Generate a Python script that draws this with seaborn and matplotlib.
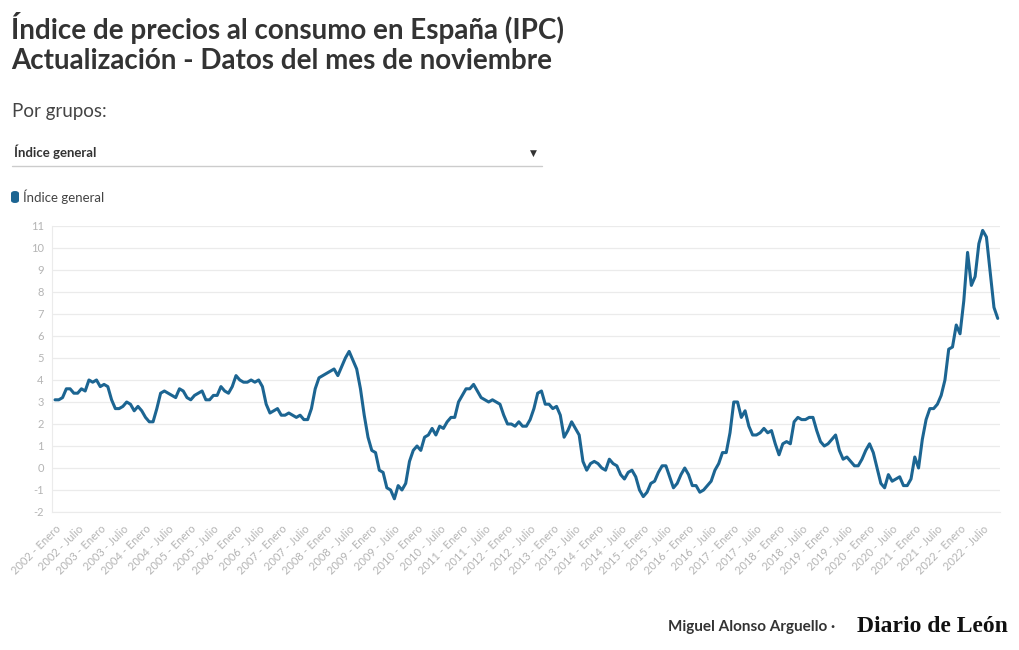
import numpy as np
import pandas as pd
import matplotlib
matplotlib.use('Agg')
import matplotlib.pyplot as plt
from matplotlib.patches import FancyBboxPatch
import seaborn as sns

# tasa de variacion anual del IPC, enero 2002 - noviembre 2022
years = list(range(2002, 2023))
month_names = ['Enero', 'Febrero', 'Marzo', 'Abril', 'Mayo', 'Junio', 'Julio',
               'Agosto', 'Septiembre', 'Octubre', 'Noviembre', 'Diciembre']

ipc_2002 = [3.1, 3.1, 3.2, 3.6, 3.6, 3.4, 3.4, 3.6, 3.5, 4.0, 3.9, 4.0]
ipc_2003 = [3.7, 3.8, 3.7, 3.1, 2.7, 2.7, 2.8, 3.0, 2.9, 2.6, 2.8, 2.6]
ipc_2004 = [2.3, 2.1, 2.1, 2.7, 3.4, 3.5, 3.4, 3.3, 3.2, 3.6, 3.5, 3.2]
ipc_2005 = [3.1, 3.3, 3.4, 3.5, 3.1, 3.1, 3.3, 3.3, 3.7, 3.5, 3.4, 3.7]
ipc_2006 = [4.2, 4.0, 3.9, 3.9, 4.0, 3.9, 4.0, 3.7, 2.9, 2.5, 2.6, 2.7]
ipc_2007 = [2.4, 2.4, 2.5, 2.4, 2.3, 2.4, 2.2, 2.2, 2.7, 3.6, 4.1, 4.2]
ipc_2008 = [4.3, 4.4, 4.5, 4.2, 4.6, 5.0, 5.3, 4.9, 4.5, 3.6, 2.4, 1.4]
ipc_2009 = [0.8, 0.7, -0.1, -0.2, -0.9, -1.0, -1.4, -0.8, -1.0, -0.7, 0.3, 0.8]
ipc_2010 = [1.0, 0.8, 1.4, 1.5, 1.8, 1.5, 1.9, 1.8, 2.1, 2.3, 2.3, 3.0]
ipc_2011 = [3.3, 3.6, 3.6, 3.8, 3.5, 3.2, 3.1, 3.0, 3.1, 3.0, 2.9, 2.4]
ipc_2012 = [2.0, 2.0, 1.9, 2.1, 1.9, 1.9, 2.2, 2.7, 3.4, 3.5, 2.9, 2.9]
ipc_2013 = [2.7, 2.8, 2.4, 1.4, 1.7, 2.1, 1.8, 1.5, 0.3, -0.1, 0.2, 0.3]
ipc_2014 = [0.2, 0.0, -0.1, 0.4, 0.2, 0.1, -0.3, -0.5, -0.2, -0.1, -0.4, -1.0]
ipc_2015 = [-1.3, -1.1, -0.7, -0.6, -0.2, 0.1, 0.1, -0.4, -0.9, -0.7, -0.3, 0.0]
ipc_2016 = [-0.3, -0.8, -0.8, -1.1, -1.0, -0.8, -0.6, -0.1, 0.2, 0.7, 0.7, 1.6]
ipc_2017 = [3.0, 3.0, 2.3, 2.6, 1.9, 1.5, 1.5, 1.6, 1.8, 1.6, 1.7, 1.1]
ipc_2018 = [0.6, 1.1, 1.2, 1.1, 2.1, 2.3, 2.2, 2.2, 2.3, 2.3, 1.7, 1.2]
ipc_2019 = [1.0, 1.1, 1.3, 1.5, 0.8, 0.4, 0.5, 0.3, 0.1, 0.1, 0.4, 0.8]
ipc_2020 = [1.1, 0.7, 0.0, -0.7, -0.9, -0.3, -0.6, -0.5, -0.4, -0.8, -0.8, -0.5]
ipc_2021 = [0.5, 0.0, 1.3, 2.2, 2.7, 2.7, 2.9, 3.3, 4.0, 5.4, 5.5, 6.5]
ipc_2022 = [6.1, 7.6, 9.8, 8.3, 8.7, 10.2, 10.8, 10.5, 8.9, 7.3, 6.8]

ipc_by_year = [ipc_2002, ipc_2003, ipc_2004, ipc_2005, ipc_2006, ipc_2007,
               ipc_2008, ipc_2009, ipc_2010, ipc_2011, ipc_2012, ipc_2013,
               ipc_2014, ipc_2015, ipc_2016, ipc_2017, ipc_2018, ipc_2019,
               ipc_2020, ipc_2021, ipc_2022]

y_ticks = list(range(-2, 12))

rows = []
for year, vals in zip(years, ipc_by_year):
    for m, v in enumerate(vals):
        rows.append({'periodo': f'{year} - {month_names[m]}', 'mes': month_names[m], 'valor': v})
df = pd.DataFrame(rows)
df['pos'] = np.arange(len(df))

sns.set_style('white')
plt.rcParams['font.family'] = ['Lato', 'DejaVu Sans']

LINE = '#1c6592'
GRID = '#ebebeb'
TICK = '#b4b4b4'
DARK = '#333333'

fig = plt.figure(figsize=(10.2, 6.5), dpi=100)
ax = fig.add_axes([52 / 1020, 1 - 512 / 650, 948 / 1020, 286 / 650])

sns.lineplot(data=df, x='pos', y='valor', ax=ax, color=LINE, linewidth=2.2,
             legend=False)

ax.set_xlim(-0.8, len(df) - 0.4)
ax.set_ylim(-2, 11)
ax.set_yticks(y_ticks)
ax.set_yticklabels([str(t) for t in y_ticks], color=TICK, fontsize=8)
ax.yaxis.grid(True, color=GRID, linewidth=0.9)
ax.set_axisbelow(True)

label_pos = df.index[df['mes'].isin(['Enero', 'Julio'])]
ax.set_xticks(label_pos)
ax.set_xticklabels(df.loc[label_pos, 'periodo'], rotation=45, ha='right',
                   rotation_mode='anchor', color=TICK, fontsize=8)
ax.set_xticks(df['pos'], minor=True)
ax.tick_params(axis='x', which='both', length=5, color=GRID, width=0.8, pad=3)
ax.tick_params(axis='y', length=0, pad=6)
ax.set_xlabel('')
ax.set_ylabel('')
sns.despine(ax=ax, top=True, right=True)
ax.spines['left'].set_color(GRID)
ax.spines['bottom'].set_color(GRID)

# cabecera
fig.text(11 / 1020, 1 - 28 / 650, 'Índice de precios al consumo en España (IPC)',
         fontsize=20, fontweight='bold', color=DARK, va='center')
fig.text(11 / 1020, 1 - 61 / 650, 'Actualización - Datos del mes de noviembre',
         fontsize=20, fontweight='bold', color=DARK, va='center')
fig.text(12 / 1020, 1 - 112 / 650, 'Por grupos:', fontsize=13.5, color='#444444',
         va='center')
fig.text(14 / 1020, 1 - 152 / 650, 'Índice general', fontsize=9.5,
         fontweight='bold', color=DARK, va='center')
fig.add_artist(plt.Line2D([12 / 1020, 542 / 1020], [1 - 166 / 650, 1 - 166 / 650],
                          color='#cccccc', linewidth=1))
fig.text(533 / 1020, 1 - 153 / 650, '▼', fontsize=6.5, color=DARK, ha='center',
         va='center', family=['DejaVu Sans'])

# leyenda
fig.add_artist(FancyBboxPatch((11 / 1020, 1 - 203 / 650), 8 / 1020, 12 / 650,
                              boxstyle='round,pad=0,rounding_size=0.004',
                              facecolor=LINE, edgecolor='none',
                              transform=fig.transFigure))
fig.text(23 / 1020, 1 - 197 / 650, 'Índice general', fontsize=9.5, color='#444444',
         va='center')

# pie
fig.text(668 / 1020, 1 - 627 / 650, 'Miguel Alonso Arguello ·', fontsize=11,
         fontweight='bold', color=DARK, ha='left', va='center')
fig.text(1008 / 1020, 1 - 626 / 650, 'Diario de León', fontsize=17,
         fontweight='bold', color='#111111', ha='right', va='center',
         family=['Liberation Serif'])

fig.savefig('out.png', dpi=100)
